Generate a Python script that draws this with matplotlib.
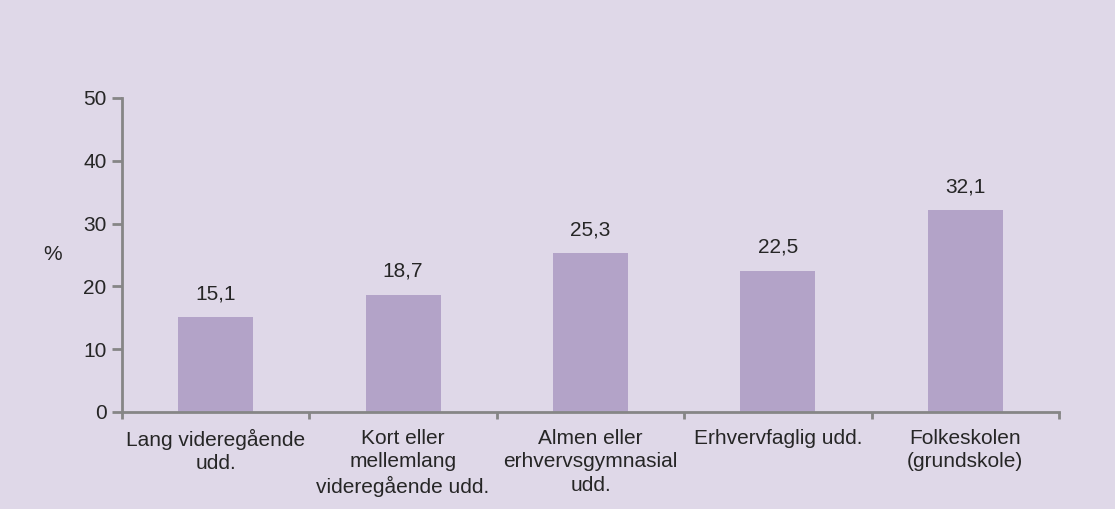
import numpy as np
from matplotlib import pyplot as plt

categories = [
    "Lang videregående\nudd.",
    "Kort eller\nmellemlang\nvideregående udd.",
    "Almen eller\nerhvervsgymnasial\nudd.",
    "Erhvervfaglig udd.",
    "Folkeskolen\n(grundskole)",
]
values = [15.1, 18.7, 25.3, 22.5, 32.1]
yticks = [0, 10, 20, 30, 40, 50]

bg = "#dfd8e8"
bar_color = "#b3a3c8"
axis_color = "#868686"
text_color = "#262626"

plt.rcParams["font.family"] = ["Liberation Sans", "DejaVu Sans"]

fig = plt.figure(figsize=(11.15, 5.09), dpi=100, facecolor=bg)
ax = fig.add_axes([0.1094, 0.1906, 0.8404, 0.6169])
ax.set_facecolor(bg)

x = np.arange(len(categories))
ax.bar(x, values, width=0.4, color=bar_color, zorder=2)

for xi, v in zip(x, values):
    ax.text(xi, v + 2.2, f"{v:.1f}".replace(".", ","), ha="center", va="bottom",
            fontsize=15, color=text_color)

ax.set_xlim(-0.5, len(categories) - 0.5)
ax.set_ylim(0, 50)
ax.set_yticks(yticks)
ax.set_yticklabels([str(t) for t in yticks])

# category labels centred, ticks on the boundaries
ax.set_xticks(x)
ax.set_xticklabels(categories, fontsize=15, color=text_color, linespacing=1.3)
ax.tick_params(axis="x", which="major", length=0, pad=12)
ax.set_xticks(np.arange(len(categories) + 1) - 0.5, minor=True)
ax.tick_params(axis="x", which="minor", length=5, width=2, color=axis_color, direction="out")
ax.tick_params(axis="y", length=7, width=2, color=axis_color, labelsize=15,
               labelcolor=text_color, pad=4)

ax.spines["top"].set_visible(False)
ax.spines["right"].set_visible(False)
ax.spines["left"].set_color(axis_color)
ax.spines["left"].set_linewidth(2)
ax.spines["bottom"].set_color(axis_color)
ax.spines["bottom"].set_linewidth(2)

ax.set_ylabel("%", rotation=0, fontsize=15, color=text_color, labelpad=22, va="center")

plt.savefig("out.png", dpi=100, facecolor=bg)
plt.close()
